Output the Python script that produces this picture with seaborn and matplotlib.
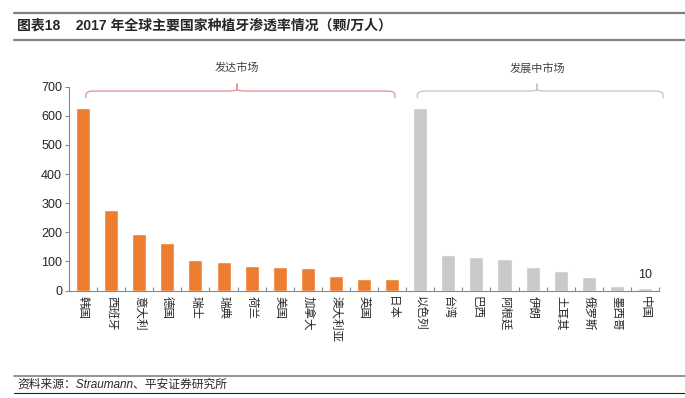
import numpy as np
import pandas as pd
import seaborn as sns
import matplotlib.pyplot as plt

# data (颗/万人)
countries = ['韩国', '西班牙', '意大利', '德国', '瑞士', '瑞典', '荷兰', '美国', '加拿大',
             '澳大利亚', '英国', '日本',
             '以色列', '台湾', '巴西', '阿根廷', '伊朗', '土耳其', '俄罗斯', '墨西哥', '中国']
values = [626, 275, 194, 162, 104, 97, 83, 81, 76, 49, 40, 39,
          628, 121, 116, 109, 79, 67, 48, 16, 10]
groups = ['发达市场'] * 12 + ['发展中市场'] * 9

df = pd.DataFrame({'country': countries, 'value': values, 'group': groups})

sns.set_style('white')
plt.rcParams['font.family'] = ['Liberation Sans', 'Noto Sans CJK SC', 'DejaVu Sans']
plt.rcParams['axes.unicode_minus'] = False

W, H = 685, 398
fig = plt.figure(figsize=(W / 100, H / 100), dpi=100)
ax = fig.add_axes([69 / W, 1 - 290.5 / H, (659 - 69) / W, (290.5 - 86.7) / H])

sns.barplot(data=df, x='country', y='value', hue='group',
            palette={'发达市场': '#ED7D31', '发展中市场': '#C9C9C9'},
            width=0.5, dodge=False, legend=False, ax=ax, saturation=1)

ax.set_ylim(0, 700)
ax.set_xlim(-0.5, len(countries) - 0.5)
ax.set_yticks(range(0, 701, 100))
ax.set_xlabel('')
ax.set_ylabel('')
for s in ['top', 'right']:
    ax.spines[s].set_visible(False)
for s in ['left', 'bottom']:
    ax.spines[s].set_color('#888888')
    ax.spines[s].set_linewidth(0.8)

# major ticks at bar boundaries (no labels), minor ticks carry the names
ax.set_xticks(np.arange(len(countries) + 1) - 0.5)
ax.set_xticklabels([''] * (len(countries) + 1))
ax.tick_params(axis='x', which='major', bottom=True, direction='in', length=3,
               color='#888888', width=0.8)
ax.set_xticks(np.arange(len(countries)), minor=True)
ax.set_xticklabels(countries, minor=True, rotation=270, fontsize=8.3, va='top', ha='center')
ax.tick_params(axis='x', which='minor', bottom=True, length=0, pad=4)
ax.tick_params(axis='y', left=True, labelsize=9, length=3, direction='out',
               color='#888888', width=0.8, pad=2)

# label on China bar
ax.text(len(countries) - 1, values[-1] + 22, str(values[-1]), ha='center', va='bottom', fontsize=9)


def brace(x0, x1, xm, color):
    r = 0.25
    ry = 12
    y_end, y_mid, y_tip = 662, 685, 709
    xs, ys = [], []
    t = np.linspace(0, np.pi / 2, 10)
    xs += list(x0 + r - r * np.cos(t))
    ys += list(y_mid - ry + ry * np.sin(t))
    xs = [x0] + xs
    ys = [y_end] + ys
    xs += [xm - r, xm, xm, xm, xm + r]
    ys += [y_mid, y_mid + 3, y_tip, y_mid + 3, y_mid]
    xs += list(x1 - r + r * np.cos(t[::-1]))
    ys += list(y_mid - ry + ry * np.sin(t[::-1]))
    xs += [x1]
    ys += [y_end]
    ax.plot(xs, ys, color=color, lw=1.0, clip_on=False, solid_joinstyle='round')


brace(0.1, 11.1, 5.48, '#E39A9A')
brace(11.9, 20.64, 16.16, '#C8C8C8')
fig.text(237 / W, 1 - 68 / H, '发达市场', ha='center', va='center', fontsize=8, color='#404040',
         family=['Noto Sans CJK SC'])
fig.text(537 / W, 1 - 68 / H, '发展中市场', ha='center', va='center', fontsize=8, color='#404040',
         family=['Noto Sans CJK SC'])

# title and source lines
fig.add_artist(plt.Line2D([14 / W, 1], [1 - 13 / H, 1 - 13 / H], color='#808080', lw=1.6))
fig.add_artist(plt.Line2D([14 / W, 1], [1 - 39.5 / H, 1 - 39.5 / H], color='#808080', lw=1.6))
fig.text(17 / W, 1 - 26 / H, '图表18    2017 年全球主要国家种植牙渗透率情况（颗/万人）',
         ha='left', va='center', fontsize=10, fontweight='bold')
fig.add_artist(plt.Line2D([14 / W, 1], [1 - 375.5 / H, 1 - 375.5 / H], color='#808080', lw=1.2))
fig.add_artist(plt.Line2D([14 / W, 1], [1 - 393 / H, 1 - 393 / H], color='#222222', lw=0.8))
fig.text(17 / W, 1 - 384.5 / H, '资料来源：Straumann、平安证券研究所',
         ha='left', va='center', fontsize=8.5, style='italic')

fig.savefig('out.png', dpi=100)
